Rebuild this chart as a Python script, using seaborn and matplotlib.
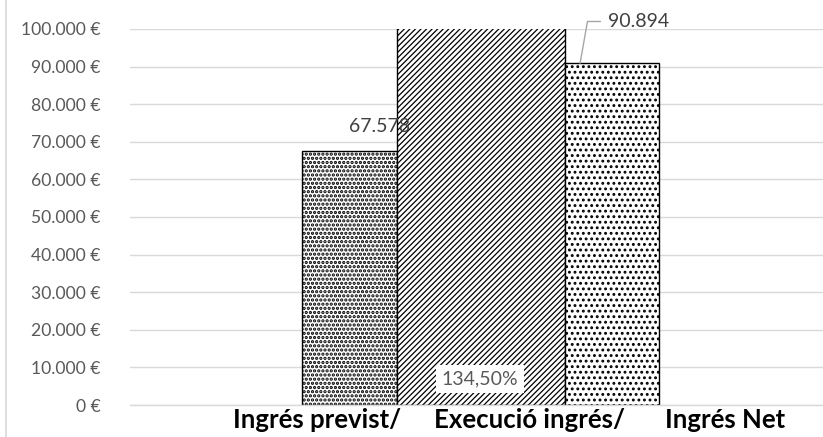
import matplotlib
matplotlib.use("Agg")
import matplotlib.pyplot as plt
import seaborn as sns
from matplotlib.lines import Line2D

# ---- data ----
categories = ["Ingrés previst/", "Execució ingrés/", "Ingrés Net"]
values = [67578, 110000, 90894]          # middle bar runs past the axis maximum (clipped)
value_labels = ["67.578", "134,50%", "90.894"]
y_ticks = [0, 10000, 20000, 30000, 40000, 50000, 60000, 70000, 80000, 90000, 100000]
y_tick_labels = ["0 €", "10.000 €", "20.000 €", "30.000 €", "40.000 €", "50.000 €",
                 "60.000 €", "70.000 €", "80.000 €", "90.000 €", "100.000 €"]

# ---- layout / style ----
bar_lefts = [-0.0706, 0.3765, 1.167]
bar_widths = [0.447, 0.7905, 0.442]
label_pos = [0.0, 1.0, 1.92]
hatches = ["....", "//////", "..."]
hatch_lws = [1.6, 0.9, 1.3]

sns.set_theme(style="white")
plt.rcParams["font.family"] = ["Lato", "DejaVu Sans"]
plt.rcParams["hatch.linewidth"] = 1.3
plt.rcParams["hatch.color"] = "black"

fig = plt.figure(figsize=(8.23, 4.37), dpi=100)
ax = fig.add_axes([130 / 823, 32 / 437, 693 / 823, (405 - 29) / 437])

sns.barplot(x=categories, y=values, ax=ax, color="white", edgecolor="black",
            linewidth=1.0, saturation=1)

for p, left, w, h, hl in zip(ax.patches, bar_lefts, bar_widths, hatches, hatch_lws):
    p.set_x(left)
    p.set_width(w)
    p.set_hatch(h)
    if hasattr(p, "set_hatch_linewidth"):
        p.set_hatch_linewidth(hl)
    p.set_facecolor("white")
    p.set_edgecolor("black")
    p.set_zorder(2)

ax.set_xlim(-0.88, 2.381)
ax.set_ylim(0, 100000)
ax.set_yticks(y_ticks)
ax.set_yticklabels(y_tick_labels, color="#595959", fontsize=12.6)
ax.set_xticks(label_pos)
ax.set_xticklabels(categories, fontsize=18.5, fontweight="bold", color="black")
ax.tick_params(axis="y", length=0, pad=21)
ax.tick_params(axis="x", length=0, pad=2)
ax.set_xlabel("")
ax.set_ylabel("")
ax.yaxis.grid(True, color="#d9d9d9", linewidth=1.0, zorder=0)
ax.set_axisbelow(True)
for s in ["top", "right", "left"]:
    ax.spines[s].set_visible(False)
ax.spines["bottom"].set_color("#d9d9d9")
ax.spines["bottom"].set_linewidth(1.0)

# data labels
ax.text(0.292, values[0] + 6600, value_labels[0], ha="center", va="center",
        fontsize=14, color="#404040", zorder=5)
ax.text(0.767, 6900, value_labels[1], ha="center", va="center", fontsize=14,
        color="#595959", zorder=5,
        bbox=dict(boxstyle="square,pad=0.3", facecolor="white", edgecolor="none"))
ax.annotate(value_labels[2], xy=(1.238, values[2]), xytext=(1.369, 102000),
            ha="left", va="center", fontsize=14, color="#404040",
            annotation_clip=False,
            arrowprops=dict(arrowstyle="-", color="#a6a6a6", lw=1.0,
                            shrinkA=3, shrinkB=0,
                            connectionstyle="angle,angleA=0,angleB=80,rad=0"))

# chart frame line on the left
fig.add_artist(Line2D([6 / 823, 6 / 823], [0, 1], color="#d9d9d9", lw=1.2))

fig.savefig("out.png", dpi=100)
